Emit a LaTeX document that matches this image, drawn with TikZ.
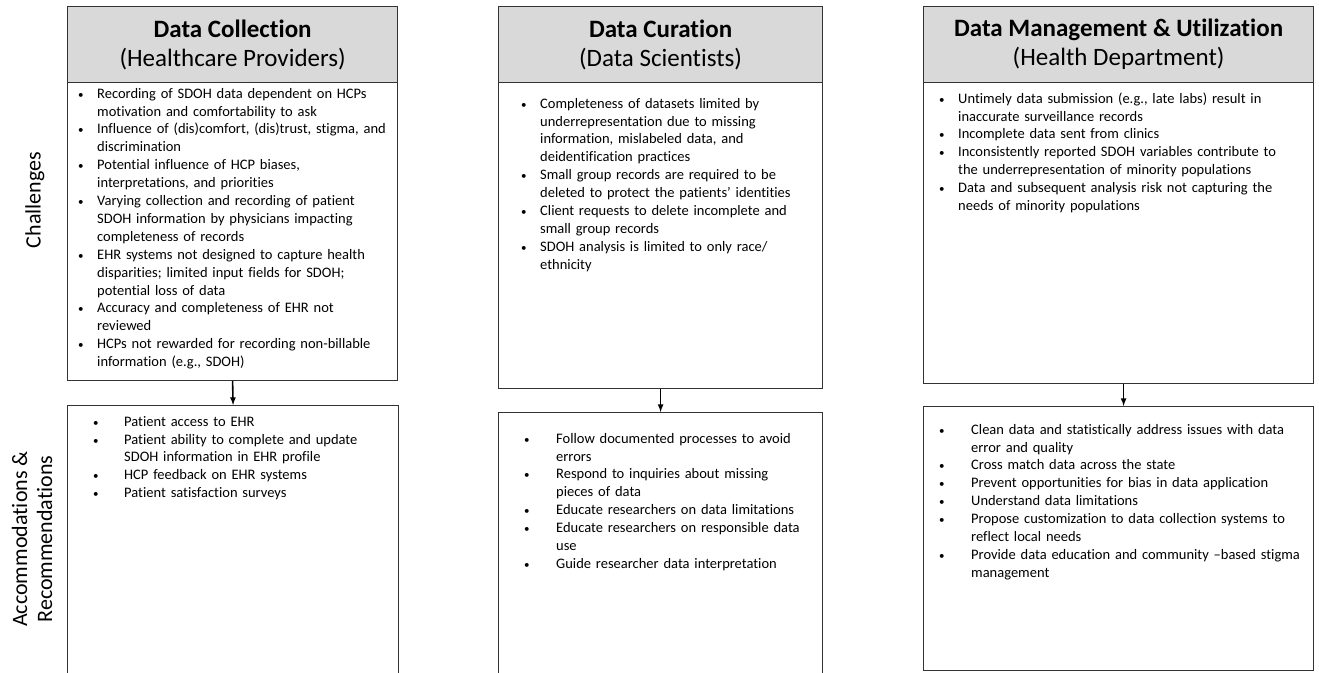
\documentclass[tikz,border=0pt]{standalone}
\usepackage{fontspec}
\setmainfont{Carlito}[Ligatures={NoCommon,TeX}]
\usepackage{enumitem}
\usetikzlibrary{positioning,arrows}
\setlist[itemize]{label={\fontsize{11}{11}\selectfont\textbullet},topsep=0pt,partopsep=0pt,itemsep=0pt,parsep=0pt,labelwidth=8pt,labelindent=0pt,align=left}

\begin{document}
\begin{tikzpicture}[x=1pt,y=-1pt,
box/.style={draw=black!80,line width=1.2pt,inner sep=0pt,anchor=north west},
hdbox/.style={box,fill=black!15,align=center,font=\fontsize{25}{29}\selectfont},
txt/.style={inner sep=0pt,anchor=north west,text width=380pt,font=\fontsize{14.5}{17.9}\selectfont},
side/.style={rotate=90,align=center,font=\fontsize{22}{25}\selectfont},
arr/.style={-latex,line width=1.6pt}]
\useasboundingbox (0,0) rectangle (1319,672);

\node[side] (lch) at (35,200) {Challenges};
\node[side] (lrc) at (32,539) {Accommodations \&\\Recommendations};

\node[hdbox,minimum width=330pt,minimum height=76pt] (hd1) at (67,6) {\textbf{Data Collection}\\(Healthcare Providers)};
\node[box,minimum width=330pt,minimum height=298pt] (ch1) at (67,82) {};
\node[box,minimum width=331pt,minimum height=275pt] (rc1) at (67,405) {};
\draw[arr] (ch1.south) -- (rc1.north);

\node[hdbox,minimum width=324pt,minimum height=76pt] (hd2) at (498,6) {\textbf{Data Curation}\\(Data Scientists)};
\node[box,minimum width=324pt,minimum height=306pt] (ch2) at (498,82) {};
\node[box,minimum width=324pt,minimum height=268pt] (rc2) at (498,412) {};
\draw[arr] (ch2.south) -- (rc2.north);

\node[hdbox,minimum width=390pt,minimum height=76pt] (hd3) at (923,6) {\textbf{Data Management \& Utilization}\\(Health Department)};
\node[box,minimum width=390pt,minimum height=301pt] (ch3) at (923,82) {};
\node[box,minimum width=390pt,minimum height=264pt] (rc3) at (923,406) {};
\draw[arr] ([xshift=5pt]ch3.south) -- ([xshift=5pt]rc3.north);

\node[txt] (tch1) at (78,80) {\begin{itemize}[leftmargin=19pt,labelsep=11pt]
\item Recording of SDOH data dependent on HCPs\newline motivation and comfortability to ask
\item Influence of (dis)comfort, (dis)trust, stigma, and\newline discrimination
\item Potential influence of HCP biases,\newline interpretations, and priorities
\item Varying collection and recording of patient\newline SDOH information by physicians impacting\newline completeness of records
\item EHR systems not designed to capture health\newline disparities; limited input fields for SDOH;\newline potential loss of data
\item Accuracy and completeness of EHR not\newline reviewed
\item HCPs not rewarded for recording non-billable\newline information (e.g., SDOH)
\end{itemize}};

\node[txt] (tch2) at (521,90) {\begin{itemize}[leftmargin=19pt,labelsep=11pt]
\item Completeness of datasets limited by\newline underrepresentation due to missing\newline information, mislabeled data, and\newline deidentification practices
\item Small group records are required to be\newline deleted to protect the patients’ identities
\item Client requests to delete incomplete and\newline small group records
\item SDOH analysis is limited to only race/\newline ethnicity
\end{itemize}};

\node[txt] (tch3) at (939,85) {\begin{itemize}[leftmargin=19pt,labelsep=11pt]
\item Untimely data submission (e.g., late labs) result in\newline inaccurate surveillance records
\item Incomplete data sent from clinics
\item Inconsistently reported SDOH variables contribute to\newline the underrepresentation of minority populations
\item Data and subsequent analysis risk not capturing the\newline needs of minority populations
\end{itemize}};

\node[txt] (trc1) at (93,408) {\begin{itemize}[leftmargin=31pt,labelsep=23pt]
\item Patient access to EHR
\item Patient ability to complete and update\newline SDOH information in EHR profile
\item HCP feedback on EHR systems
\item Patient satisfaction surveys
\end{itemize}};

\node[txt] (trc2) at (524,425) {\begin{itemize}[leftmargin=32pt,labelsep=24pt]
\item Follow documented processes to avoid\newline errors
\item Respond to inquiries about missing\newline pieces of data
\item Educate researchers on data limitations
\item Educate researchers on responsible data\newline use
\item Guide researcher data interpretation
\end{itemize}};

\node[txt] (trc3) at (939,416) {\begin{itemize}[leftmargin=32pt,labelsep=24pt]
\item Clean data and statistically address issues with data\newline error and quality
\item Cross match data across the state
\item Prevent opportunities for bias in data application
\item Understand data limitations
\item Propose customization to data collection systems to\newline reflect local needs
\item Provide data education and community –based stigma\newline management
\end{itemize}};
\end{tikzpicture}
\end{document}
